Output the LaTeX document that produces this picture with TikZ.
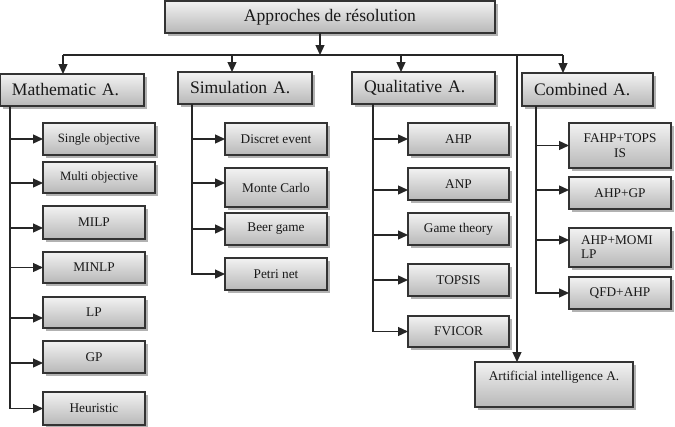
\documentclass[tikz,border=0pt]{standalone}
\usepackage{fontspec}
\setmainfont{Liberation Serif}
\usetikzlibrary{arrows.meta,shadows}
\begin{document}
\begin{tikzpicture}[x=1pt,y=-1pt,
  box/.style={draw=black!80, line width=1.2pt, top color=black!5, bottom color=black!28,
    drop shadow={shadow xshift=2.5pt,shadow yshift=-2.5pt,fill=black,opacity=0.3},
    anchor=north west, inner sep=0pt, outer sep=0pt, text=black!90},
  mainbox/.style={box, font=\fontsize{17.6}{20}\selectfont, align=left, inner xsep=12pt, minimum height=32pt},
  sub/.style={box, font=\fontsize{13.3}{15}\selectfont, align=center},
  obj/.style={box, font=\fontsize{12.7}{15}\selectfont, align=center},
  arr/.style={draw=black!85, line width=1.3pt, -{Triangle[length=10pt,width=9pt]}},
  ln/.style={draw=black!85, line width=1.3pt}]
\useasboundingbox (0,0) rectangle (675,426);

% top
\node[box, font=\fontsize{17.6}{20}\selectfont, minimum width=330pt, minimum height=32pt] (top) at (165,1) {Approches de résolution};

% main categories
\node[mainbox, text width=120pt] (math) at (0,74) {Mathematic A.};
\node[mainbox, text width=110pt] (sim) at (178,72) {Simulation A.};
\node[mainbox, text width=119pt] (qual) at (352,72) {Qualitative A.};
\node[mainbox, text width=107pt, minimum height=33pt] (comb) at (522,73) {Combined A.};

% mathematic children
\node[obj, minimum width=112pt, minimum height=32pt] (so) at (43,123) {Single objective};
\node[obj, minimum width=112pt, minimum height=31pt] (mo) at (43,162) {Multi objective};
\node[sub, minimum width=102pt, minimum height=33pt] (milp) at (43,206) {MILP};
\node[sub, minimum width=102pt, minimum height=31pt] (minlp) at (43,252) {MINLP};
\node[sub, minimum width=102pt, minimum height=31pt] (lp) at (43,297) {LP};
\node[sub, minimum width=102pt, minimum height=32pt] (gp) at (43,341) {GP};
\node[sub, minimum width=102pt, minimum height=33pt] (heu) at (43,392) {Heuristic};

% simulation children
\node[sub, minimum width=102pt, minimum height=32pt] (de) at (225,123) {Discret event};
\node[sub, minimum width=102pt, minimum height=39pt] (mc) at (225,168) {Monte Carlo};
\node[sub, minimum width=102pt, minimum height=32pt] (bg) at (225,213) {Beer game};
\node[sub, minimum width=102pt, minimum height=32pt] (pn) at (225,258) {Petri net};

% qualitative children
\node[sub, minimum width=101pt, minimum height=32pt] (ahp) at (408,123) {AHP};
\node[sub, minimum width=101pt, minimum height=32pt] (anp) at (408,168) {ANP};
\node[sub, minimum width=101pt, minimum height=32pt] (gt) at (408,213) {Game theory};
\node[sub, minimum width=101pt, minimum height=32pt] (tops) at (408,264) {TOPSIS};
\node[sub, minimum width=101pt, minimum height=31pt] (fv) at (408,316) {FVICOR};

% combined children
\node[sub, minimum width=102pt, minimum height=45pt] (fahp) at (569,123) {FAHP+TOPS\\IS};
\node[sub, minimum width=102pt, minimum height=32pt] (ahpgp) at (569,177) {AHP+GP};
\node[sub, minimum width=102pt, minimum height=39pt, align=left, text width=78pt, inner xsep=12pt, font=\fontsize{13.3}{14}\selectfont] (momilp) at (569,228) {AHP+MOMI\\LP};
\node[sub, minimum width=102pt, minimum height=32pt] (qfd) at (569,277) {QFD+AHP};

% AI
\node[sub, minimum width=158pt, minimum height=45pt, text depth=17pt] (ai) at (475,362) {Artificial intelligence A.};

% bus
\coordinate (bus) at (320,55);
\coordinate (busL) at (63,55);
\coordinate (busS) at (232,55);
\coordinate (busQ) at (401,55);
\coordinate (busA) at (517,55);
\coordinate (busR) at (563,55);
\draw[arr] (top.south -| bus) -- (bus);
\draw[ln] (busL) -- (busR);
\draw[arr] (busL) -- (busL |- math.north);
\draw[arr] (busS) -- (busS |- sim.north);
\draw[arr] (busQ) -- (busQ |- qual.north);
\draw[arr] (busR) -- (busR |- comb.north);
\draw[arr] (busA) -- (busA |- ai.north);

% trunks
\coordinate (tm) at (10,0);
\coordinate (ts) at (192,0);
\coordinate (tq) at (373,0);
\coordinate (tc) at (536,0);

\draw[arr] (math.south -| tm) |- (so.west);
\draw[arr] (math.south -| tm) |- ([yshift=-5.5pt]mo.west);
\draw[arr] (math.south -| tm) |- ([yshift=-5.5pt]milp.west);
\draw[arr] (math.south -| tm) |- (minlp.west);
\draw[arr] (math.south -| tm) |- ([yshift=-5.5pt]lp.west);
\draw[arr] (math.south -| tm) |- ([yshift=-6pt]gp.west);
\draw[arr] (math.south -| tm) |- (heu.west);

\draw[arr] (sim.south -| ts) |- (de.west);
\draw[arr] (sim.south -| ts) |- ([yshift=4.5pt]mc.west);
\draw[arr] (sim.south -| ts) |- (bg.west);
\draw[arr] (sim.south -| ts) |- (pn.west);

\draw[arr] (qual.south -| tq) |- (ahp.west);
\draw[arr] (qual.south -| tq) |- ([yshift=-6pt]anp.west);
\draw[arr] (qual.south -| tq) |- ([yshift=-6pt]gt.west);
\draw[arr] (qual.south -| tq) |- (tops.west);
\draw[arr] (qual.south -| tq) |- (fv.west);

\draw[arr] (comb.south -| tc) |- (fahp.west);
\draw[arr] (comb.south -| tc) |- ([yshift=3pt]ahpgp.west);
\draw[arr] (comb.south -| tc) |- ([yshift=7.5pt]momilp.west);
\draw[arr] (comb.south -| tc) |- (qfd.west);
\end{tikzpicture}
\end{document}
